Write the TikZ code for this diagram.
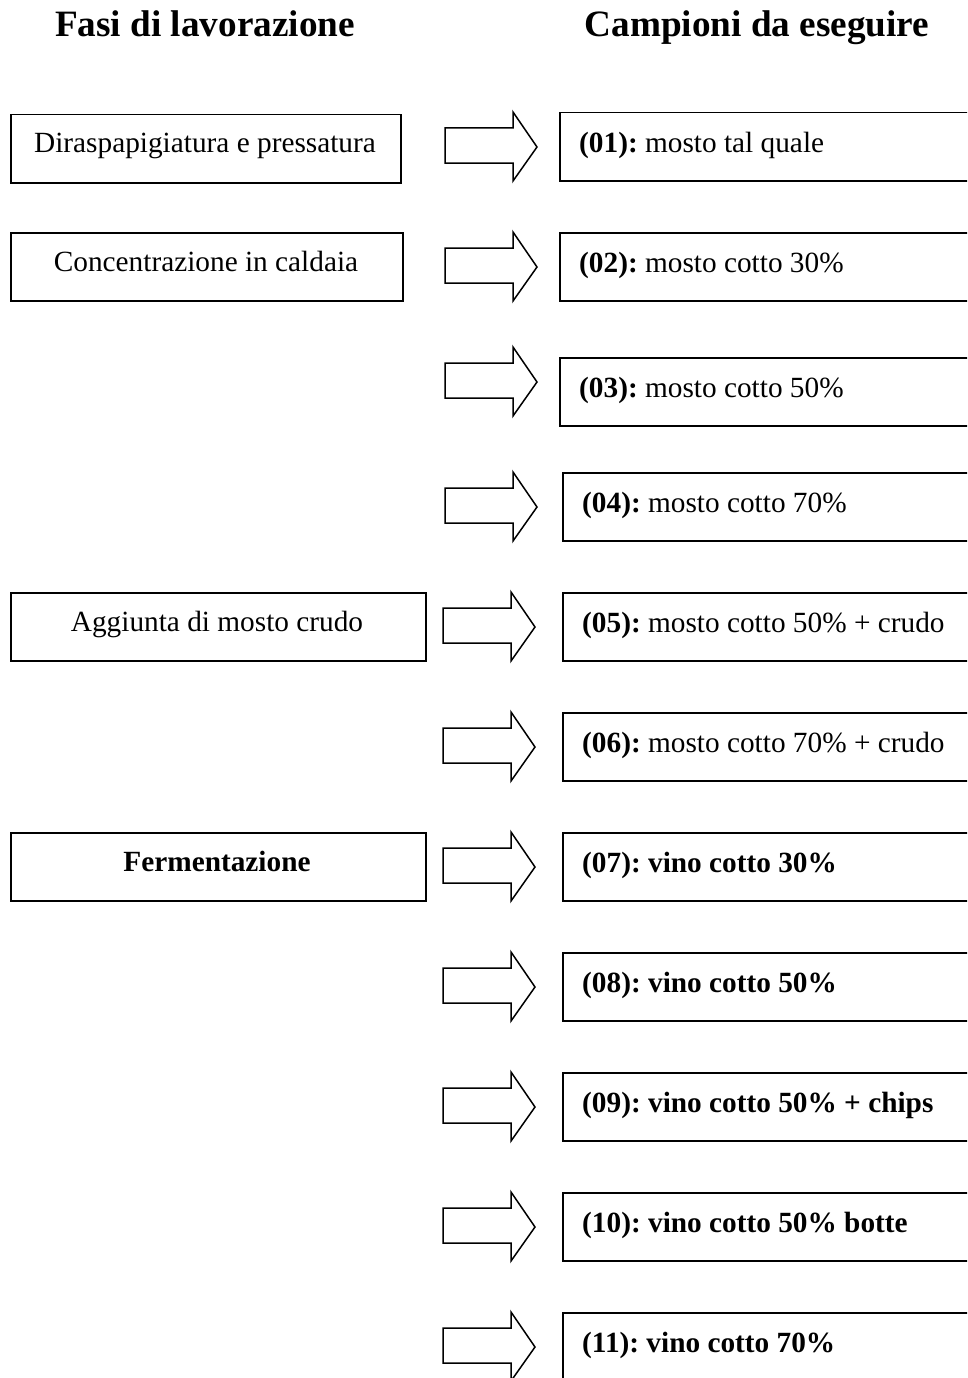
\documentclass[tikz,border=0pt]{standalone}
\usepackage{fontspec}
\setmainfont{Liberation Serif}
\frenchspacing
\begin{document}
\begin{tikzpicture}[x=1pt,y=-1pt,
  box/.style={draw, line width=1.5pt, inner sep=0pt, anchor=north west, minimum height=68pt},
  rbox/.style={box, minimum width=420pt},
  txt/.style={inner sep=0pt, font=\fontsize{29.3}{34}\selectfont},
  ttl/.style={inner sep=0pt, anchor=base, font=\fontsize{37.2}{44}\selectfont\bfseries},
  barrow/.pic={\draw[line width=1.5pt, line join=miter] (0,16) -- (68,16) -- (68,0) -- (92,35) -- (68,69) -- (68,51) -- (0,51) -- cycle;}
]
\useasboundingbox (0,0) rectangle (967,1378);
\clip (0,0) rectangle (967,1378);
% titles
\node[ttl] (tL) at (205,37) {Fasi di lavorazione};
\node[ttl] (tR) at (757,37) {Campioni da eseguire};
% left boxes
\node[box, minimum width=390pt] (f1) at (10,114) {};
\node[txt, anchor=base] (f1t) at (205,153) {Diraspapigiatura e pressatura};
\node[box, minimum width=392pt] (f2) at (10,232) {};
\node[txt, anchor=base] (f2t) at (206,271) {Concentrazione in caldaia};
\node[box, minimum width=415pt] (f3) at (10,592) {};
\node[txt, anchor=base] (f3t) at (217,631) {Aggiunta di mosto crudo};
\node[box, minimum width=415pt] (f4) at (10,832) {};
\node[txt, anchor=base, font=\fontsize{29.3}{34}\selectfont\bfseries] (f4t) at (217,871) {Fermentazione};
% arrows
\pic at (445,112) {barrow};
\pic at (445,232) {barrow};
\pic at (445,347) {barrow};
\pic at (445,472) {barrow};
\pic at (443,592) {barrow};
\pic at (443,712) {barrow};
\pic at (443,832) {barrow};
\pic at (443,952) {barrow};
\pic at (443,1072) {barrow};
\pic at (443,1192) {barrow};
\pic at (443,1312) {barrow};
% right boxes
\node[rbox] (s1) at (559,112) {};
\node[txt, anchor=base west] (s1t) at (579,152) {\textbf{(01):} mosto tal quale};
\node[rbox] (s2) at (559,232) {};
\node[txt, anchor=base west] (s2t) at (579,272) {\textbf{(02):} mosto cotto 30\%};
\node[rbox] (s3) at (559,357) {};
\node[txt, anchor=base west] (s3t) at (579,397) {\textbf{(03):} mosto cotto 50\%};
\node[rbox] (s4) at (562,472) {};
\node[txt, anchor=base west] (s4t) at (582,512) {\textbf{(04):} mosto cotto 70\%};
\node[rbox] (s5) at (562,592) {};
\node[txt, anchor=base west] (s5t) at (582,632) {\textbf{(05):} mosto cotto 50\% + crudo};
\node[rbox] (s6) at (562,712) {};
\node[txt, anchor=base west] (s6t) at (582,752) {\textbf{(06):} mosto cotto 70\% + crudo};
\node[rbox] (s7) at (562,832) {};
\node[txt, anchor=base west] (s7t) at (582,872) {\textbf{(07): vino cotto 30\%}};
\node[rbox] (s8) at (562,952) {};
\node[txt, anchor=base west] (s8t) at (582,992) {\textbf{(08): vino cotto 50\%}};
\node[rbox] (s9) at (562,1072) {};
\node[txt, anchor=base west] (s9t) at (582,1112) {\textbf{(09): vino cotto 50\% + chips}};
\node[rbox] (s10) at (562,1192) {};
\node[txt, anchor=base west] (s10t) at (582,1232) {\textbf{(10): vino cotto 50\% botte}};
\node[rbox] (s11) at (562,1312) {};
\node[txt, anchor=base west] (s11t) at (582,1352) {\textbf{(11): vino cotto 70\%}};
\end{tikzpicture}
\end{document}
